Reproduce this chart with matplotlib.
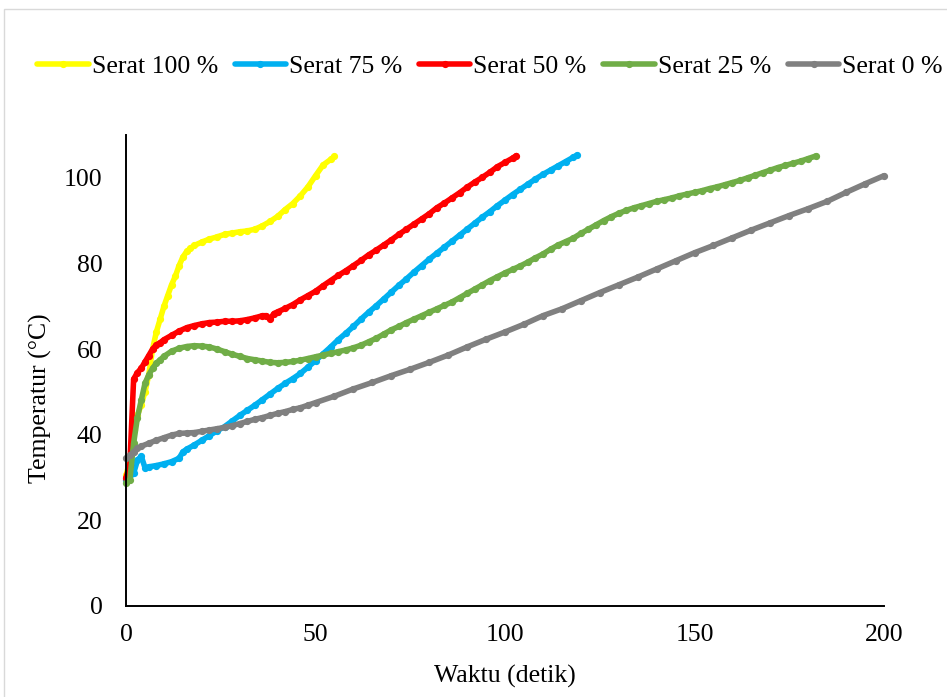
import matplotlib
matplotlib.use("Agg")
import matplotlib.pyplot as plt
from matplotlib.patches import Rectangle

plt.rcParams['font.family'] = ['Liberation Serif', 'DejaVu Serif']

# Time (s) and temperature (°C) for each fibre fraction
t_100 = [0, 1, 2, 3, 4, 5, 6, 7, 8, 9, 10, 11, 12, 13, 14, 15, 16, 17, 18, 20,
         22, 24, 26, 28, 30, 32, 34, 36, 38, 40, 42, 44, 46, 48, 50, 52, 54, 55]
temp_100 = [30.5, 34, 41, 44.5, 47, 50, 54, 60, 64, 67, 70, 72.5, 75, 77, 79.5, 81.5,
            82.8, 83.5, 84.2, 85, 85.7, 86.2, 86.8, 87.1, 87.4, 87.6, 88, 88.8, 89.8,
            91, 92.6, 94, 95.8, 97.9, 100.5, 103, 104.3, 105]

t_75 = [0, 1, 2, 3, 4, 5, 6, 8, 10, 12, 14, 15, 16, 18, 20, 22, 24, 26, 28, 30,
        32, 34, 36, 38, 40, 42, 44, 46, 48, 50, 52, 54, 56, 58, 60, 62, 64, 66, 68,
        70, 72, 74, 76, 78, 80, 82, 84, 86, 88, 90, 92, 94, 96, 98, 100, 102, 104,
        106, 108, 110, 112, 114, 116, 118, 119]
temp_75 = [29.5, 30.5, 31, 34, 35, 32.3, 32.5, 32.8, 33.2, 33.7, 34.5, 36, 36.6, 37.6,
           38.7, 39.8, 40.9, 41.9, 43.2, 44.5, 45.7, 46.9, 48.2, 49.5, 50.8, 52.0,
           53.1, 54.3, 55.8, 57.3, 58.9, 60.5, 62.2, 63.7, 65.3, 67, 68.6, 70.1, 71.7,
           73.3, 74.9, 76.4, 78, 79.5, 81, 82.4, 83.8, 85.2, 86.6, 88, 89.4, 90.8,
           92.1, 93.5, 94.8, 96.1, 97.3, 98.5, 99.7, 100.8, 101.8, 102.8, 103.8,
           104.8, 105.3]

t_50 = [0, 1, 2, 3, 4, 5, 6, 7, 8, 9, 10, 12, 14, 16, 18, 20, 22, 24, 26, 28, 30,
        32, 34, 36, 37, 38, 39, 40, 42, 44, 46, 48, 50, 52, 54, 56, 58, 60, 62, 64,
        66, 68, 70, 72, 74, 76, 78, 80, 82, 84, 86, 88, 90, 92, 94, 96, 98, 100,
        102, 103]
temp_50 = [30, 33, 53, 54.5, 55.5, 57, 58.5, 60, 61, 61.5, 62.2, 63.2, 64.2, 65, 65.5,
           65.9, 66.2, 66.3, 66.5, 66.5, 66.6, 66.9, 67.3, 67.8, 67.8, 67.0, 68.3,
           68.7, 69.5, 70.4, 71.5, 72.5, 73.5, 74.8, 76, 77.2, 78.3, 79.5, 80.7, 82,
           83.1, 84.3, 85.5, 86.8, 88, 89.2, 90.4, 91.6, 93, 94.1, 95.3, 96.5, 97.8,
           99, 100.1, 101.3, 102.6, 103.6, 104.6, 105.2]

t_25 = [0, 1, 2, 3, 4, 5, 6, 7, 8, 9, 10, 12, 14, 16, 18, 20, 22, 24, 26, 28, 30,
        32, 34, 36, 38, 40, 42, 44, 46, 48, 50, 52, 54, 56, 58, 60, 62, 64, 66, 68,
        70, 72, 74, 76, 78, 80, 82, 84, 86, 88, 90, 92, 94, 96, 98, 100, 102, 104,
        106, 108, 110, 112, 114, 116, 118, 120, 122, 124, 126, 128, 130, 132, 134,
        136, 138, 140, 142, 144, 146, 148, 150, 152, 154, 156, 158, 160, 162, 164,
        166, 168, 170, 172, 174, 176, 178, 180, 182]
temp_25 = [28.7, 29.5, 38, 44, 48, 52, 54, 55.5, 56.7, 57.5, 58.3, 59.5, 60.2, 60.6,
           60.8, 60.7, 60.5, 60, 59.4, 58.8, 58.3, 57.8, 57.5, 57.2, 56.9, 56.8, 56.9,
           57.1, 57.4, 57.8, 58.2, 58.6, 59, 59.4, 59.8, 60.3, 60.9, 61.7, 62.5, 63.5,
           64.5, 65.3, 66.2, 67, 67.8, 68.6, 69.4, 70.2, 71, 72, 73, 74, 75, 76, 76.9,
           77.8, 78.6, 79.4, 80.3, 81.3, 82.2, 83.3, 84.3, 85.1, 85.9, 87, 88, 89, 90,
           90.9, 91.7, 92.4, 93, 93.5, 94, 94.5, 94.9, 95.3, 95.8, 96.2, 96.6, 97,
           97.5, 97.9, 98.4, 98.9, 99.4, 100, 100.6, 101.2, 101.8, 102.4, 102.9, 103.4,
           103.9, 104.5, 105.1]

t_0 = [0, 1, 2, 3, 4, 6, 8, 10, 12, 14, 16, 18, 20, 22, 24, 26, 28, 30, 32, 34, 36,
       38, 40, 42, 44, 46, 48, 50, 55, 60, 65, 70, 75, 80, 85, 90, 95, 100, 105, 110,
       115, 120, 125, 130, 135, 140, 145, 150, 155, 160, 165, 170, 175, 180, 185, 190,
       195, 200]
temp_0 = [34.5, 35.2, 36, 36.8, 37.3, 38, 38.7, 39.3, 39.9, 40.3, 40.4, 40.5, 40.8,
          41.1, 41.4, 41.7, 42.1, 42.6, 43.1, 43.6, 44, 44.5, 45, 45.4, 45.9, 46.3,
          46.9, 47.5, 49, 50.7, 52.2, 53.8, 55.3, 56.9, 58.6, 60.5, 62.3, 64, 65.8,
          67.8, 69.4, 71.3, 73.2, 75, 76.8, 78.7, 80.6, 82.5, 84.2, 86, 87.8, 89.5,
          91.2, 92.8, 94.5, 96.6, 98.6, 100.5]

series = [
    ("Serat 100 %", t_100, temp_100, "#FFFF00"),
    ("Serat 75 %", t_75, temp_75, "#00B0F0"),
    ("Serat 50 %", t_50, temp_50, "#FF0000"),
    ("Serat 25 %", t_25, temp_25, "#70AD47"),
    ("Serat 0 %", t_0, temp_0, "#808080"),
]

x_ticks = [0, 50, 100, 150, 200]
y_ticks = [0, 20, 40, 60, 80, 100]

fig = plt.figure(figsize=(9.47, 6.97), dpi=100)
ax = fig.add_axes([0.1331, 0.1306, 0.8004, 0.6757])

for name, t, temp, col in series:
    ax.plot(t, temp, color=col, lw=4.0, marker="o", ms=4.2, mec=col, mfc=col,
            label=name, solid_capstyle="round", solid_joinstyle="round",
            clip_on=False)

ax.set_xlim(0, 200)
ax.set_ylim(0, 110)
ax.set_xticks(x_ticks)
ax.set_yticks(y_ticks)
ax.tick_params(axis="both", length=0, labelsize=18.5)
ax.tick_params(axis="y", pad=17)
ax.tick_params(axis="x", pad=13)

for side in ("top", "right"):
    ax.spines[side].set_visible(False)
for side in ("left", "bottom"):
    ax.spines[side].set_linewidth(1.4)
    ax.spines[side].set_color("black")

ax.set_xlabel("Waktu (detik)", fontsize=18.5, va="center")
ax.xaxis.set_label_coords(0.5, -0.1507)
ax.set_ylabel("Temperatur (°C)", fontsize=18.5, va="center")
ax.yaxis.set_label_coords(-0.1135, 0.4416)

fig.legend(loc="center", bbox_to_anchor=(490 / 947, 1 - 67 / 697), ncol=5,
           frameon=False, fontsize=18.5, handlelength=2.0, handletextpad=0.12,
           columnspacing=0.65, borderaxespad=0, borderpad=0, markerscale=1.0)

# light chart-area border
fig.add_artist(Rectangle((4 / 947, -0.05), 1.2, 1.05 - 9 / 697,
                         transform=fig.transFigure, fill=False,
                         edgecolor="#D9D9D9", lw=1.0))

fig.savefig("out.png", dpi=100)
